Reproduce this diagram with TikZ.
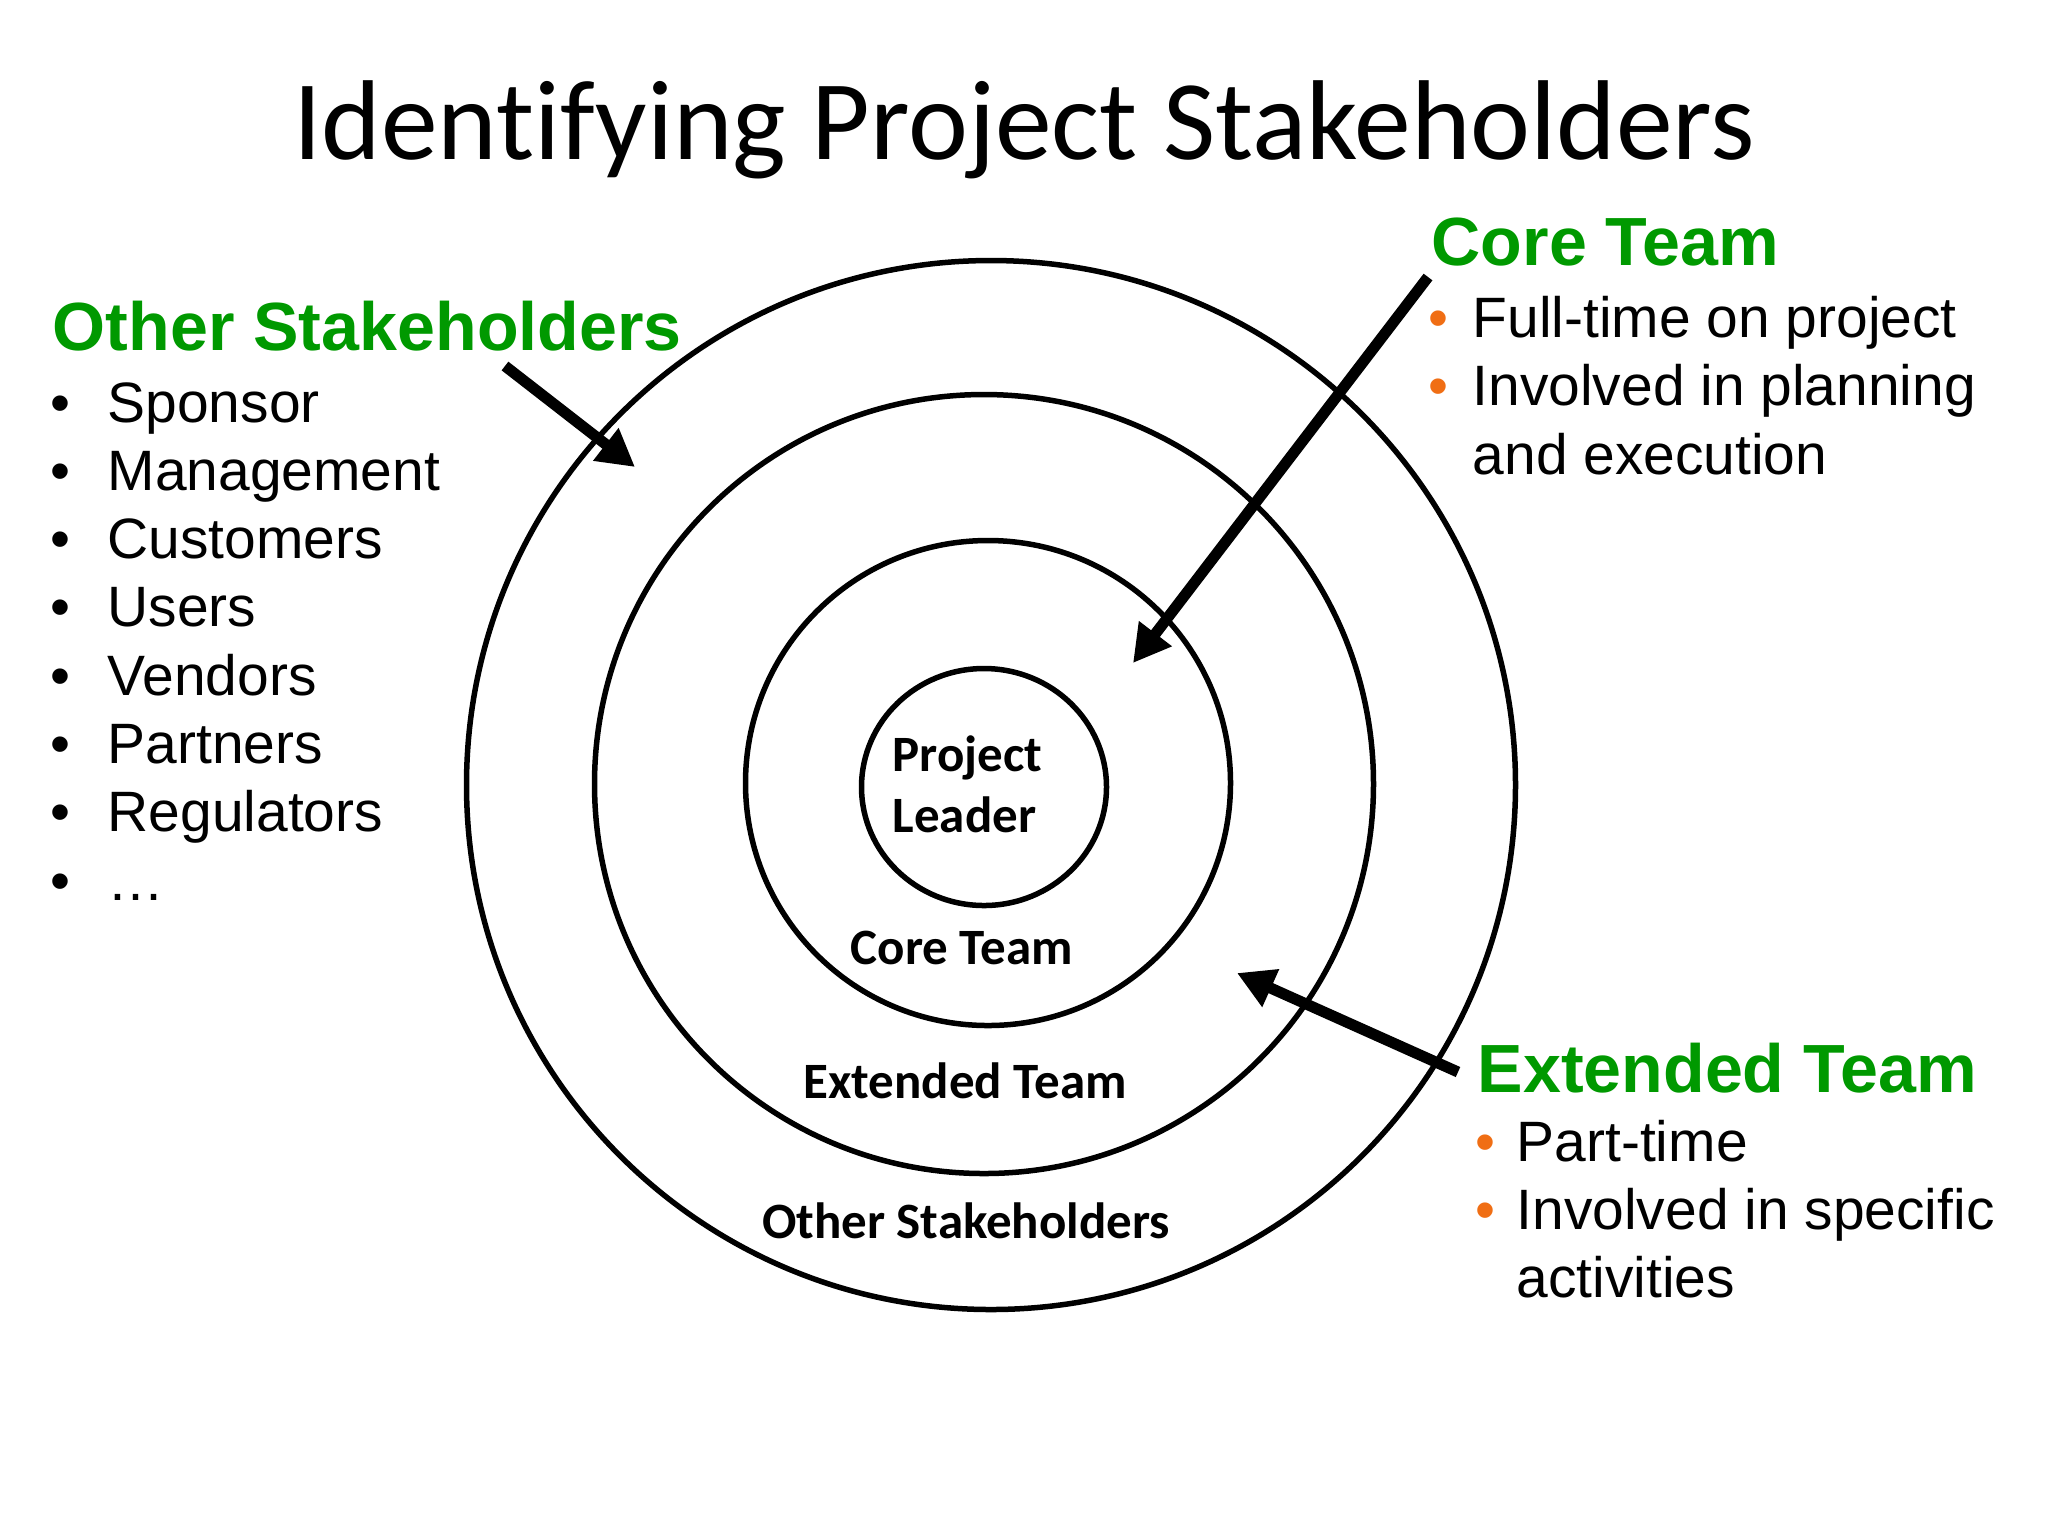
\documentclass[tikz,border=0pt]{standalone}
\usepackage{fontspec}
\setmainfont{Liberation Sans}
\newfontfamily\calibri[Ligatures=NoCommon]{Carlito}
\usetikzlibrary{arrows.meta,shapes.geometric}
\definecolor{hdgreen}{RGB}{0,153,0}
\definecolor{bulorange}{RGB}{240,110,20}
\begin{document}
\begin{tikzpicture}[x=0.1mm, y=-0.1mm,
  ring/.style={draw, circle, line width=0.55mm, inner sep=0},
  titletext/.style={font=\calibri\fontsize{32.3}{38}\selectfont, inner sep=0, anchor=base},
  heading/.style={font=\bfseries\fontsize{19.4}{23}\selectfont, text=hdgreen, inner sep=0, anchor=base west},
  itemtext/.style={font=\fontsize{16.2}{19.5}\selectfont, inner sep=0, anchor=base west},
  blackbullet/.style={font=\fontsize{16.2}{19.5}\selectfont, inner sep=0, anchor=base},
  orangebullet/.style={blackbullet, text=bulorange},
  ringlabel/.style={font=\calibri\bfseries\fontsize{14.5}{17}\selectfont, inner sep=0, anchor=base},
  bigarrow/.style={line width=1.1mm, -{Triangle[length=3.7mm, width=3.9mm]}}
]
\useasboundingbox (0,0) rectangle (2048,1536);
\fill[white] (0,0) rectangle (2048,1536);

% title
\node[titletext] (title) at (1024,159) {Identifying Project Stakeholders};

% rings
\node[ring, minimum size=104.9mm] (outerring) at (991,785) {};
\node[ring, minimum size=77.9mm] (extring) at (984,784) {};
\node[ring, minimum size=48.5mm] (corering) at (988,783) {};
\node[ring, ellipse, minimum width=24.5mm, minimum height=23.7mm] (leaderring) at (984,787) {};

% ring labels
\node[ringlabel, anchor=base west] (lblproject) at (892,771) {Project};
\node[ringlabel, anchor=base west] (lblleader) at (892,832) {Leader};
\node[ringlabel] (lblcore) at (962,964) {Core Team};
\node[ringlabel] (lblext) at (965,1098) {Extended Team};
\node[ringlabel] (lblother) at (966,1238) {Other Stakeholders};

% left list
\node[heading] (hother) at (52,350) {Other Stakeholders};
\foreach \t [count=\i] in {Sponsor,Management,Customers,Users,Vendors,Partners,Regulators,…}{
  \node[blackbullet] (lb\i) at (60,{422+68.3*(\i-1)}) {•};
  \node[itemtext] (li\i) at (107,{422+68.3*(\i-1)}) {\t};
}

% core team list
\node[heading] (hcore) at (1431,265) {Core Team};
\node[orangebullet] (cb1) at (1438,337) {•};
\node[itemtext] (ci1) at (1472,337) {Full-time on project};
\node[orangebullet] (cb2) at (1438,405.5) {•};
\node[itemtext] (ci2) at (1472,405.5) {Involved in planning};
\node[itemtext] (ci3) at (1472,474) {and execution};

% extended team list
\node[heading] (hext) at (1477,1092) {Extended Team};
\node[orangebullet] (eb1) at (1485,1161) {•};
\node[itemtext] (ei1) at (1516,1161) {Part-time};
\node[orangebullet] (eb2) at (1485,1229) {•};
\node[itemtext] (ei2) at (1516,1229) {Involved in specific};
\node[itemtext] (ei3) at (1516,1297) {activities};

% arrows
\coordinate (osTail) at (505,366);
\coordinate (osTip) at (635,467);
\coordinate (ctTail) at (1428,277);
\coordinate (ctTip) at (1133,663);
\coordinate (etTail) at (1458,1072);
\coordinate (etTip) at (1237,973);
\draw[bigarrow] (osTail) -- (osTip);
\draw[bigarrow] (ctTail) -- (ctTip);
\draw[bigarrow] (etTail) -- (etTip);
\end{tikzpicture}
\end{document}
